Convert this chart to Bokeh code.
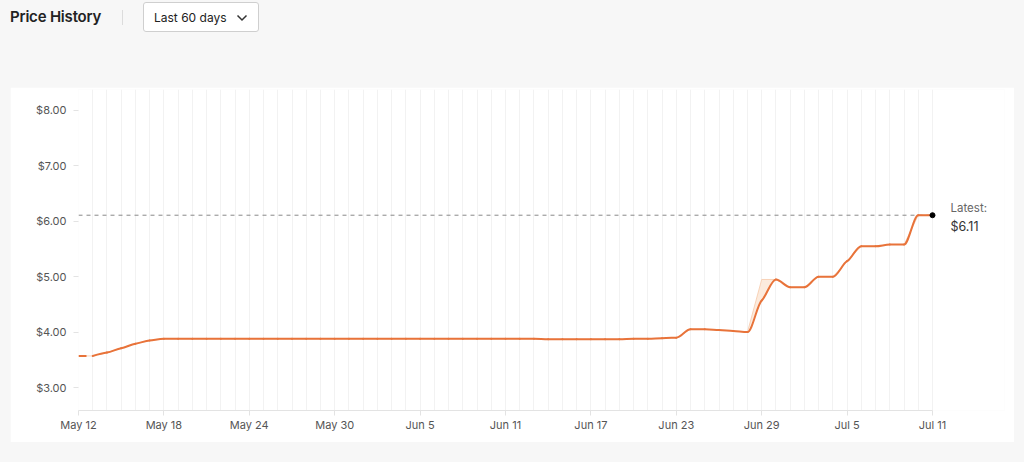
from bokeh.plotting import figure
from bokeh.models import Div, FixedTicker, NumeralTickFormatter, Label
from bokeh.layouts import column
from bokeh.embed import file_html
from bokeh.resources import INLINE

# ---- data ----
days = list(range(61))  # 0 = May 12 ... 60 = Jul 11
prices = [3.57, 3.57, 3.63, 3.71, 3.79, 3.85, 3.88, 3.88, 3.88, 3.88,
          3.88, 3.88, 3.88, 3.88, 3.88, 3.88, 3.88, 3.88, 3.88, 3.88,
          3.88, 3.88, 3.88, 3.88, 3.88, 3.88, 3.88, 3.88, 3.88, 3.88,
          3.88, 3.88, 3.88, 3.87, 3.87, 3.87, 3.87, 3.87, 3.87, 3.88,
          3.88, 3.89, 3.90, 4.05, 4.05, 4.04, 4.02, 4.00, 4.57, 4.95,
          4.81, 4.81, 5.00, 5.00, 5.28, 5.55, 5.55, 5.58, 5.58, 6.11,
          6.11]
raw_prices = list(prices)
raw_prices[48] = 4.95
tick_days = [0, 6, 12, 18, 24, 30, 36, 42, 48, 54, 60]
tick_labels = ["May 12", "May 18", "May 24", "May 30", "Jun 5", "Jun 11",
               "Jun 17", "Jun 23", "Jun 29", "Jul 5", "Jul 11"]
y_ticks = [3, 4, 5, 6, 7, 8]
latest = 6.11

FONT = "Inter"
ORANGE = "#E8733A"


def monotone_segments(xs, ys):
    """Cubic Bezier segments for a monotone-x curve through the data points."""
    n = len(xs)
    sl = [(ys[i + 1] - ys[i]) / (xs[i + 1] - xs[i]) for i in range(n - 1)]
    t = [0.0] * n
    for i in range(1, n - 1):
        s0, s1 = sl[i - 1], sl[i]
        if s0 * s1 <= 0:
            t[i] = 0.0
        else:
            h0 = xs[i] - xs[i - 1]
            h1 = xs[i + 1] - xs[i]
            pm = (s0 * h1 + s1 * h0) / (h0 + h1)
            sgn = 1 if s0 > 0 else -1
            t[i] = sgn * min(abs(s0), abs(s1), 0.5 * abs(pm))
    t[0] = (3 * sl[0] - t[1]) / 2 if n > 2 else sl[0]
    t[-1] = (3 * sl[-1] - t[-2]) / 2 if n > 2 else sl[-1]
    seg = dict(x0=[], y0=[], x1=[], y1=[], cx0=[], cy0=[], cx1=[], cy1=[])
    for i in range(n - 1):
        h = xs[i + 1] - xs[i]
        seg["x0"].append(xs[i]); seg["y0"].append(ys[i])
        seg["x1"].append(xs[i + 1]); seg["y1"].append(ys[i + 1])
        seg["cx0"].append(xs[i] + h / 3); seg["cy0"].append(ys[i] + t[i] * h / 3)
        seg["cx1"].append(xs[i + 1] - h / 3); seg["cy1"].append(ys[i + 1] - t[i + 1] * h / 3)
    return seg


header_html = f"""
<div style="position:relative;width:1024px;height:87px;font-family:{FONT},sans-serif;">
  <div style="position:absolute;left:10px;top:8px;font-size:15px;font-weight:600;color:#222;line-height:18px;letter-spacing:-0.2px;">Price History</div>
  <div style="position:absolute;left:122px;top:10px;width:1px;height:15px;background:#dcdcdc;"></div>
  <div style="position:absolute;left:143px;top:2px;width:116px;height:30px;background:#fff;border:1px solid #cfcfcf;border-radius:3px;">
    <div style="position:absolute;left:10px;top:7px;font-size:12px;color:#222;line-height:16px;">Last 60 days</div>
    <svg style="position:absolute;left:92px;top:10px;" width="12" height="10" viewBox="0 0 12 10">
      <polyline points="1.5,2.5 6,7 10.5,2.5" fill="none" stroke="#333" stroke-width="1.5"/>
    </svg>
  </div>
</div>
"""
header = Div(text=header_html, width=1024, height=87, margin=(0, 0, 0, 0))

# frame: 68px left border, 10px right border, day width matches 854px for 60 days
x_end = 60 * (1004 - 68 - 10) / 854

p = figure(width=1004, height=355, output_backend="svg", toolbar_location=None,
           x_range=(0, x_end), y_range=(2.585, 8.379),
           min_border_left=68, min_border_right=10, min_border_top=2, min_border_bottom=32)
p.margin = (0, 0, 0, 10)
p.border_fill_color = "white"
p.background_fill_color = "white"
p.outline_line_color = None

# grid
p.xgrid.ticker = FixedTicker(ticks=days)
p.xgrid.grid_line_color = "#f2f2f2"
p.xgrid.grid_line_width = 1
p.ygrid.grid_line_color = None

# x axis
p.xaxis.ticker = FixedTicker(ticks=tick_days)
p.xaxis.bounds = (days[0], days[-1])
p.xaxis.major_label_overrides = {d: l for d, l in zip(tick_days, tick_labels)}
p.xaxis.axis_line_color = "#e3e3e3"
p.xaxis.major_tick_line_color = "#e3e3e3"
p.xaxis.major_tick_out = 5
p.xaxis.major_tick_in = 0
p.xaxis.minor_tick_line_color = None
p.xaxis.major_label_standoff = 2
p.xaxis.major_label_text_font = FONT
p.xaxis.major_label_text_font_size = "11px"
p.xaxis.major_label_text_color = "#555"

# y axis
p.yaxis.ticker = FixedTicker(ticks=y_ticks)
p.yaxis.formatter = NumeralTickFormatter(format="$0.00")
p.yaxis.axis_line_color = None
p.yaxis.major_tick_line_color = "#e3e3e3"
p.yaxis.major_tick_out = 5
p.yaxis.major_tick_in = 0
p.yaxis.minor_tick_line_color = None
p.yaxis.major_label_standoff = 7
p.yaxis.major_label_text_font = FONT
p.yaxis.major_label_text_font_size = "11px"
p.yaxis.major_label_text_color = "#555"

# latest price reference line (across the data range)
p.line([days[0], days[-1]], [latest, latest], line_color="#888",
       line_dash="4 4", line_width=1)

# pale raw band
p.varea(x=days, y1=prices, y2=raw_prices, fill_color="#FCEBDD", fill_alpha=1.0)
p.line(days, raw_prices, line_color="#F6C9AA", line_width=1, line_alpha=0.8)

# main series: dashed first gap, then smooth monotone curve through the points
p.line(days[:2], prices[:2], line_color=ORANGE, line_width=2, line_dash="8 6")
seg = monotone_segments(days[1:], prices[1:])
p.bezier(source=seg, x0="x0", y0="y0", x1="x1", y1="y1",
         cx0="cx0", cy0="cy0", cx1="cx1", cy1="cy1",
         line_color=ORANGE, line_width=2, line_cap="round")
p.scatter([days[-1]], [prices[-1]], size=5, color="black")

p.add_layout(Label(x=days[-1], y=latest, x_offset=18, y_offset=7, text="Latest:",
                   text_font=FONT, text_font_size="11.5px", text_color="#666",
                   text_baseline="middle"))
p.add_layout(Label(x=days[-1], y=latest, x_offset=18, y_offset=-11, text=f"${latest:.2f}",
                   text_font=FONT, text_font_size="12.5px", text_color="#333",
                   text_baseline="middle"))

footer = Div(text="", width=1024, height=20, margin=(0, 0, 0, 0))
layout = column(header, p, footer, spacing=0, styles={"background-color": "#f7f7f7"})

open("out.html", "w").write(file_html(layout, INLINE))
